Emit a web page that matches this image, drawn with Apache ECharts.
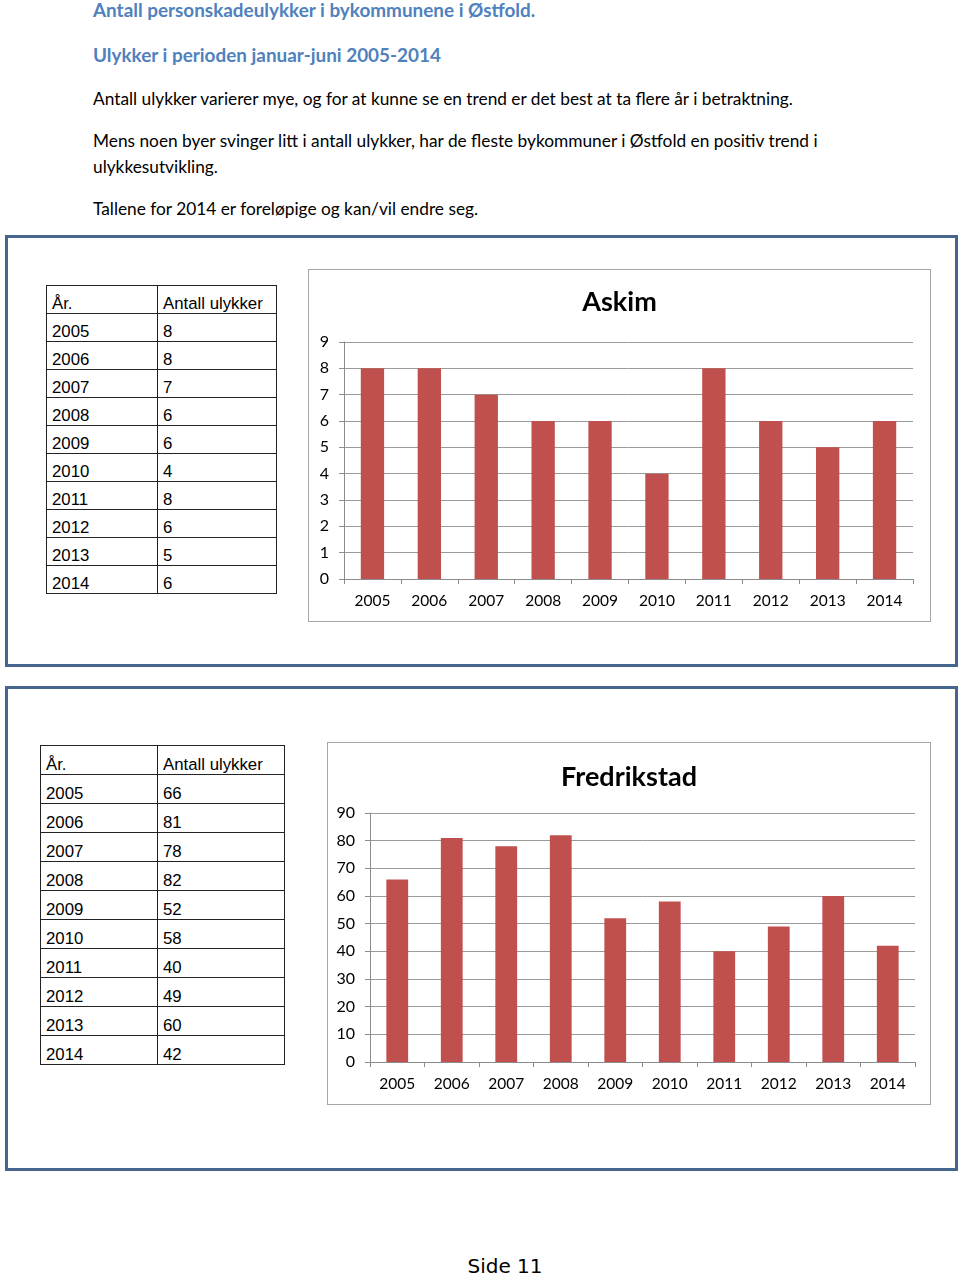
<!DOCTYPE html>
<html>
<head>
<meta charset="utf-8">
<script src="https://cdn.jsdelivr.net/npm/echarts@6/dist/echarts.min.js"></script>
<style>
  html, body { margin: 0; padding: 0; background: #fff; }
  body { width: 960px; height: 1275px; position: relative; overflow: hidden; font-family: Lato, "Open Sans", sans-serif; }
  .txt { position: absolute; left: 93px; white-space: nowrap; color: #000; font-size: 17.3px; line-height: 20px; }
  .head { color: #4f81bd; font-weight: bold; font-size: 18.9px; }
  .box { position: absolute; left: 5px; width: 947px; border: 3px solid #46668f; box-sizing: content-box; }
  .frame { position: absolute; border: 1.5px solid #a6a6a6; box-sizing: border-box; background: #fff; }
  table { position: absolute; border-collapse: collapse; font-family: "Liberation Sans", Arial, sans-serif; font-size: 16.8px; }
  td { border: 1.5px solid #222; padding: 0 0 0 5px; vertical-align: bottom; line-height: 18px; }
  .foot { position: absolute; left: 0; width: 1010px; text-align: center; top: 1254px; font-family: "DejaVu Sans", sans-serif; font-size: 20px; }
</style>
</head>
<body>
<div class="txt head" style="top:0px">Antall personskadeulykker i bykommunene i Østfold.</div>
<div class="txt head" style="top:45px">Ulykker i perioden januar-juni 2005-2014</div>
<div class="txt" style="top:89px">Antall ulykker varierer mye, og for at kunne se en trend er det best at ta flere år i betraktning.</div>
<div class="txt" style="top:131px">Mens noen byer svinger litt i antall ulykker, har de fleste bykommuner i Østfold en positiv trend i</div>
<div class="txt" style="top:157px">ulykkesutvikling.</div>
<div class="txt" style="top:199px">Tallene for 2014 er foreløpige og kan/vil endre seg.</div>

<div class="box" style="top:235px; height:426px"></div>
<div class="box" style="top:686px; height:479px"></div>

<table id="tab1" style="left:46px; top:285px; width:231px"></table>
<table id="tab2" style="left:40px; top:745px; width:245px"></table>

<div id="chart1" class="frame" style="left:308px; top:269px; width:623px; height:353px"></div>
<div id="chart2" class="frame" style="left:327px; top:742px; width:604px; height:363px"></div>

<div class="foot">Side 11</div>

<script>
// data
const years = ['2005', '2006', '2007', '2008', '2009', '2010', '2011', '2012', '2013', '2014'];
const askim = [8, 8, 7, 6, 6, 4, 8, 6, 5, 6];
const fredrikstad = [66, 81, 78, 82, 52, 58, 40, 49, 60, 42];
const tableHead = ['År.', 'Antall ulykker'];

function fillTable(id, values, col1, rowH) {
  const t = document.getElementById(id);
  let html = '<tr style="height:' + rowH + 'px"><td style="width:' + col1 + 'px">' + tableHead[0] + '</td><td>' + tableHead[1] + '</td></tr>';
  years.forEach((y, i) => {
    html += '<tr style="height:' + rowH + 'px"><td>' + y + '</td><td>' + values[i] + '</td></tr>';
  });
  t.innerHTML = html;
}
fillTable('tab1', askim, 105, 28);
fillTable('tab2', fredrikstad, 111, 29);

const labelFont = { fontFamily: 'Lato, "Open Sans", sans-serif', fontSize: 15.5, color: '#000' };

function makeChart(id, title, values, max, interval, grid, barWidth) {
  const chart = echarts.init(document.getElementById(id), null, { renderer: 'canvas' });
  chart.setOption({
    animation: false,
    title: {
      text: title,
      left: 'center',
      top: grid.titleTop,
      textStyle: { fontFamily: 'Lato, "Open Sans", sans-serif', fontSize: 27, fontWeight: 'bold', color: '#000' }
    },
    grid: { left: grid.left, right: grid.right, top: grid.top, bottom: grid.bottom, containLabel: false },
    xAxis: {
      type: 'category',
      data: years,
      boundaryGap: true,
      axisLine: { lineStyle: { color: '#8c8c8c', width: 1 } },
      axisTick: { show: true, alignWithLabel: false, length: 5, lineStyle: { color: '#8c8c8c' } },
      axisLabel: Object.assign({ margin: 14 }, labelFont)
    },
    yAxis: {
      type: 'value',
      min: 0,
      max: max,
      interval: interval,
      axisLine: { show: true, lineStyle: { color: '#8c8c8c', width: 1 } },
      axisTick: { show: true, length: 5, lineStyle: { color: '#8c8c8c' } },
      axisLabel: Object.assign({ margin: 15 }, labelFont, { fontSize: 16 }),
      splitLine: { lineStyle: { color: '#9a9a9a', width: 1 } }
    },
    series: [{
      type: 'bar',
      data: values,
      barWidth: barWidth,
      itemStyle: { color: '#c0504d' }
    }]
  });
}

makeChart('chart1', 'Askim', askim, 9, 1, { left: 35, right: 17, top: 72, bottom: 42, titleTop: 14 }, '41%');
makeChart('chart2', 'Fredrikstad', fredrikstad, 90, 10, { left: 42, right: 15, top: 70, bottom: 42, titleTop: 16 }, '40%');
</script>
</body>
</html>
